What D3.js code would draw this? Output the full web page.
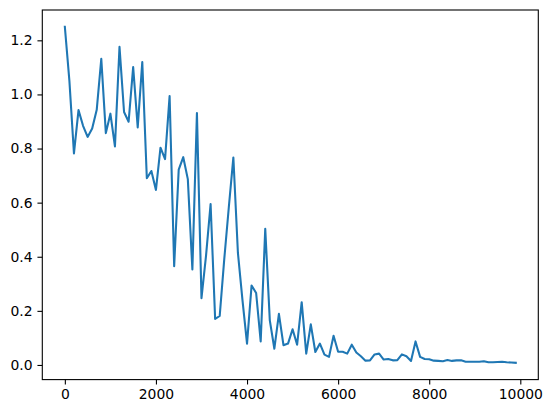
<!DOCTYPE html>
<html>
<head>
<meta charset="utf-8">
<script src="https://cdn.jsdelivr.net/npm/d3@7"></script>
<style>
  body { margin: 0; background: #fff; }
  svg { display: block; }
  .tick text { font-family: "DejaVu Sans", sans-serif; font-size: 13.9px; fill: #000; }
</style>
</head>
<body>
<svg id="chart" width="551" height="413"></svg>
<script>
// step index -> value, one point every 100 steps
var steps = d3.range(0, 10000, 100);
var values = [
  1.250, 1.050, 0.782, 0.942, 0.884, 0.843, 0.874, 0.943, 1.132, 0.857,
  0.929, 0.808, 1.176, 0.935, 0.899, 1.101, 0.878, 1.120, 0.690, 0.717,
  0.647, 0.803, 0.761, 0.994, 0.365, 0.722, 0.768, 0.687, 0.353, 0.931,
  0.247, 0.404, 0.595, 0.170, 0.181, 0.391, 0.583, 0.767, 0.414, 0.240,
  0.079, 0.294, 0.266, 0.087, 0.503, 0.165, 0.060, 0.189, 0.073, 0.079,
  0.132, 0.075, 0.232, 0.042, 0.150, 0.048, 0.079, 0.038, 0.030, 0.108,
  0.049, 0.049, 0.042, 0.075, 0.046, 0.032, 0.016, 0.017, 0.039, 0.042,
  0.020, 0.022, 0.017, 0.018, 0.039, 0.032, 0.015, 0.087, 0.030, 0.022,
  0.021, 0.016, 0.015, 0.014, 0.018, 0.015, 0.017, 0.017, 0.012, 0.012,
  0.012, 0.012, 0.014, 0.010, 0.010, 0.011, 0.012, 0.010, 0.009, 0.008
];
var xTicks = [0, 2000, 4000, 6000, 8000, 10000];
var yTicks = [0, 0.2, 0.4, 0.6, 0.8, 1.0, 1.2];

var marginLeft = 42.3, marginTop = 10, W = 496, H = 369.6;
var tickLen = 4.86;

var svg = d3.select("#chart");
var g = svg.append("g").attr("transform", "translate(" + marginLeft + "," + marginTop + ")");

// matplotlib style 5% margins
var xr = d3.extent(steps), yr = d3.extent(values);
var xm = (xr[1] - xr[0]) * 0.05, ym = (yr[1] - yr[0]) * 0.05;

var x = d3.scaleLinear().domain([xr[0] - xm, xr[1] + xm]).range([0, W]);
var y = d3.scaleLinear().domain([yr[0] - ym, yr[1] + ym]).range([H, 0]);

var xAxis = g.append("g")
    .attr("transform", "translate(0," + H + ")")
    .call(d3.axisBottom(x).tickValues(xTicks).tickFormat(d3.format("d"))
          .tickSize(tickLen).tickPadding(tickLen).tickSizeOuter(0));
var yAxis = g.append("g")
    .call(d3.axisLeft(y).tickValues(yTicks).tickFormat(d3.format(".1f"))
          .tickSize(tickLen).tickPadding(tickLen).tickSizeOuter(0));

[xAxis, yAxis].forEach(function(a){
    a.select(".domain").remove();
    a.selectAll(".tick line").attr("stroke", "#000").attr("stroke-width", 1.1);
    a.attr("font-family", null).attr("font-size", null);
});

var line = d3.line()
    .x(function(d, i){ return x(steps[i]); })
    .y(function(d){ return y(d); });

g.append("path")
    .datum(values)
    .attr("fill", "none")
    .attr("stroke", "#1f77b4")
    .attr("stroke-width", 2.08)
    .attr("stroke-linejoin", "round")
    .attr("stroke-linecap", "square")
    .attr("d", line);

// frame (all four spines)
g.append("rect")
    .attr("width", W).attr("height", H)
    .attr("fill", "none").attr("stroke", "#000").attr("stroke-width", 1.1);
</script>
</body>
</html>
